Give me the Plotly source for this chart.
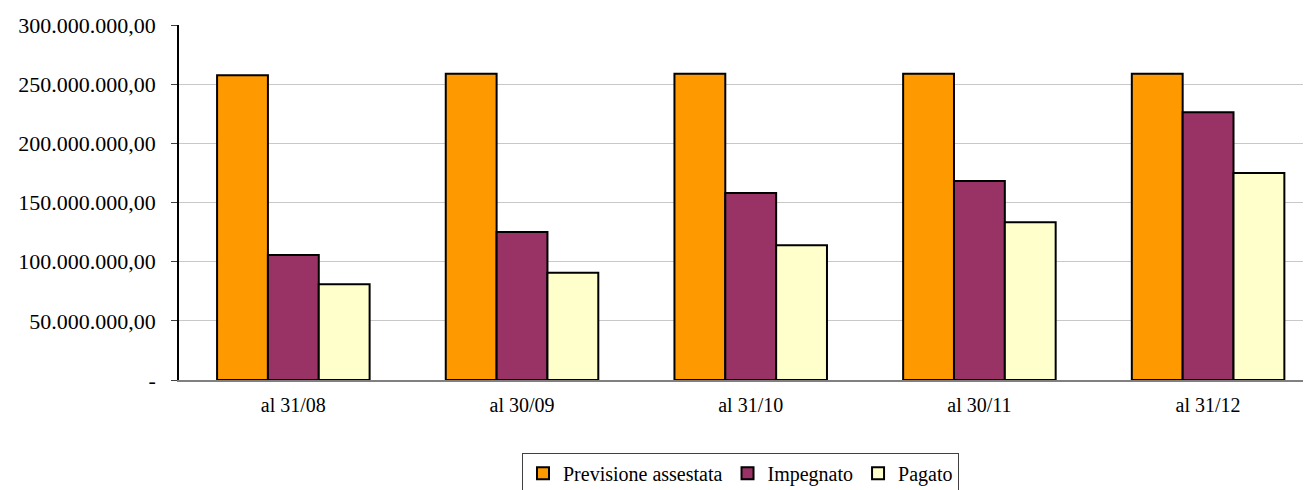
import plotly.graph_objects as go

categories = ["al 31/08", "al 30/09", "al 31/10", "al 30/11", "al 31/12"]
previsione = [257.5e6, 258.9e6, 258.9e6, 258.9e6, 258.9e6]
impegnato = [105.6e6, 125.1e6, 158.0e6, 168.2e6, 226.2e6]
pagato = [80.9e6, 90.7e6, 113.8e6, 133.3e6, 174.9e6]

series_names = ["Previsione assestata", "Impegnato", "Pagato"]
series_colors = ["#FF9900", "#993366", "#FFFFCC"]

y_tickvals = [0, 50e6, 100e6, 150e6, 200e6, 250e6, 300e6]
y_ticktext = ["-", "50.000.000,00", "100.000.000,00", "150.000.000,00",
              "200.000.000,00", "250.000.000,00", "300.000.000,00"]

FONT = "Liberation Serif, Times New Roman, serif"

fig = go.Figure()
for name, vals, col in zip(series_names, [previsione, impegnato, pagato], series_colors):
    fig.add_trace(go.Bar(
        x=list(range(len(categories))), y=vals, name=name,
        marker=dict(color=col, line=dict(color="#000000", width=2)),
    ))

fig.update_layout(
    width=1303, height=482,
    margin=dict(l=171, r=0, t=17, b=110, autoexpand=False),
    paper_bgcolor="white", plot_bgcolor="white",
    barmode="group", bargap=0.333, bargroupgap=0,
    font=dict(family=FONT, size=20, color="#000000"),
    showlegend=True,
    legend=dict(
        orientation="h", x=0.303, xanchor="left", y=-0.205, yanchor="top",
        bordercolor="#404040", borderwidth=1, bgcolor="white",
        font=dict(family=FONT, size=20), itemwidth=30,
        tracegroupgap=0,
    ),
)
fig.update_xaxes(
    range=[-0.5, 4.45],
    tickvals=list(range(len(categories))), ticktext=categories,
    showline=True, linecolor="#808080", linewidth=2,
    ticks="", showgrid=False, zeroline=False,
    tickfont=dict(family=FONT, size=20),
    ticklabelstandoff=6,
)
fig.update_yaxes(
    range=[0, 300e6],
    tickvals=y_tickvals, ticktext=y_ticktext,
    showline=True, linecolor="#000000", linewidth=1.5,
    ticks="outside", ticklen=6, tickcolor="#404040",
    showgrid=True, gridcolor="#C8C8C8", gridwidth=1,
    zeroline=False,
    tickfont=dict(family=FONT, size=22),
    ticklabelstandoff=11,
)

fig.write_html("out.html")
